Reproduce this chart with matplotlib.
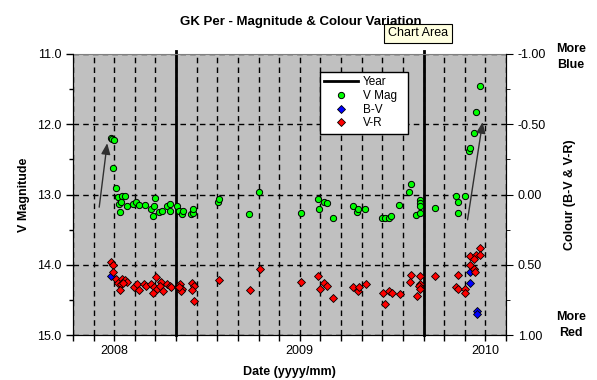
import matplotlib.pyplot as plt
from matplotlib.ticker import FixedLocator, MultipleLocator, FormatStrFormatter

plt.rcParams['font.family'] = ['Liberation Sans', 'DejaVu Sans']

# V magnitude observations (decimal year, mag)
vmag_date = [2007.981, 2007.989, 2007.997, 2007.995, 2008.009, 2008.018, 2008.042, 2008.059,
             2008.024, 2008.035, 2008.032, 2008.070, 2008.102, 2008.119, 2008.135, 2008.167,
             2008.200, 2008.216, 2008.210, 2008.221, 2008.243, 2008.257, 2008.283, 2008.302,
             2008.302, 2008.338, 2008.348, 2008.363, 2008.368, 2008.415, 2008.422, 2008.424,
             2008.559, 2008.563, 2008.727, 2008.778, 2009.009, 2009.097, 2009.106, 2009.133,
             2009.145, 2009.181, 2009.288, 2009.309, 2009.316, 2009.352, 2009.444, 2009.459,
             2009.478, 2009.494, 2009.537, 2009.591, 2009.597, 2009.627, 2009.645, 2009.650,
             2009.650, 2009.645, 2009.731, 2009.839, 2009.850, 2009.850, 2009.888, 2009.911,
             2009.915, 2009.936, 2009.951, 2009.969]
vmag = [12.19, 12.21, 12.23, 12.62, 12.91, 13.03, 13.02, 13.02,
        13.13, 13.10, 13.25, 13.16, 13.13, 13.11, 13.15, 13.15,
        13.21, 13.17, 13.30, 13.05, 13.25, 13.24, 13.17, 13.14,
        13.23, 13.17, 13.23, 13.28, 13.24, 13.28, 13.26, 13.21,
        13.11, 13.06, 13.28, 12.97, 13.26, 13.07, 13.21, 13.10,
        13.12, 13.34, 13.17, 13.25, 13.21, 13.20, 13.34, 13.34,
        13.34, 13.30, 13.15, 12.96, 12.85, 13.29, 13.08, 13.12,
        13.16, 13.26, 13.19, 13.02, 13.11, 13.26, 13.02, 12.38,
        12.34, 12.12, 11.82, 11.45]

# B-V colour
bv_date = [2007.985, 2009.919, 2009.936, 2009.919, 2009.953, 2009.953]
bv = [0.58, 0.55, 0.53, 0.63, 0.83, 0.85]

# V-R colour
vr_date = [2007.982, 2007.996, 2007.996, 2008.012, 2008.042, 2008.056, 2008.070, 2008.019,
           2008.034, 2008.045, 2008.031, 2008.105, 2008.120, 2008.135, 2008.161, 2008.171,
           2008.200, 2008.224, 2008.250, 2008.214, 2008.228, 2008.244, 2008.210, 2008.261,
           2008.287, 2008.302, 2008.306, 2008.341, 2008.356, 2008.365, 2008.361, 2008.351,
           2008.419, 2008.429, 2008.417, 2008.429, 2008.565, 2008.730, 2008.784, 2009.009,
           2009.097, 2009.107, 2009.133, 2009.145, 2009.181, 2009.288, 2009.314, 2009.318,
           2009.354, 2009.447, 2009.457, 2009.479, 2009.497, 2009.540, 2009.598, 2009.592,
           2009.650, 2009.650, 2009.643, 2009.645, 2009.630, 2009.731, 2009.852, 2009.839,
           2009.852, 2009.889, 2009.889, 2009.915, 2009.969, 2009.950, 2009.971, 2009.936,
           2009.915, 2009.936, 2009.942]
vr = [0.48, 0.50, 0.55, 0.60, 0.60, 0.61, 0.62, 0.63,
      0.64, 0.63, 0.68, 0.66, 0.64, 0.68, 0.64, 0.65,
      0.64, 0.59, 0.62, 0.66, 0.67, 0.65, 0.70, 0.69,
      0.64, 0.65, 0.66, 0.66, 0.64, 0.67, 0.69, 0.66,
      0.63, 0.65, 0.68, 0.76, 0.61, 0.68, 0.53, 0.62,
      0.58, 0.67, 0.63, 0.65, 0.74, 0.66, 0.69, 0.66,
      0.64, 0.70, 0.78, 0.69, 0.70, 0.71, 0.57, 0.62,
      0.58, 0.64, 0.65, 0.67, 0.72, 0.58, 0.57, 0.66,
      0.67, 0.67, 0.70, 0.44, 0.38, 0.43, 0.43, 0.46,
      0.50, 0.53, 0.55]

# "Year" marker lines
year_lines = [2008.333, 2009.667]

# brightening arrows (start -> end) in (date, mag)
arrow_starts = [(2007.919, 13.18), (2009.904, 13.36)]
arrow_ends = [(2007.962, 12.27), (2009.985, 11.97)]

year_labels = [2008, 2009, 2010]

fig = plt.figure(figsize=(5.97, 3.80), dpi=100)
ax = fig.add_axes([73 / 597, 1 - 335 / 380, 433 / 597, 281 / 380])
ax.set_facecolor('#c0c0c0')
ax.set_xlim(2008 - 2 / 9, 2010 + 1 / 9)
ax.set_ylim(15.0, 11.0)

# x axis: labels at year starts, gridlines every 1/9 year
ax.xaxis.set_major_locator(FixedLocator(year_labels))
ax.xaxis.set_major_formatter(FormatStrFormatter('%d'))
ax.xaxis.set_minor_locator(FixedLocator([2008 + k / 9 for k in range(-2, 20)]))
ax.yaxis.set_major_locator(MultipleLocator(1.0))
ax.yaxis.set_minor_locator(MultipleLocator(0.5))
ax.yaxis.set_major_formatter(FormatStrFormatter('%.1f'))

ax.grid(which='both', axis='x', color='black', linestyle=(0, (4, 3)), linewidth=1)
ax.grid(which='major', axis='y', color='black', linestyle=(0, (4, 3)), linewidth=1)

ax.tick_params(which='both', direction='out', labelsize=9, width=1)
ax.tick_params(axis='x', which='both', length=4, pad=3)
ax.tick_params(axis='y', which='major', length=5)
ax.tick_params(axis='y', which='minor', length=3)
ax.spines['top'].set_color('#808080')

for i, x in enumerate(year_lines):
    ax.axvline(x, ymin=0, ymax=1.012, color='black', lw=2, clip_on=False,
               label='Year' if i == 0 else None)

ax.plot(vmag_date, vmag, linestyle='none', marker='o', ms=4.5, mfc='#00ff00',
        mec='black', mew=0.7, label='V Mag')

for s, e in zip(arrow_starts, arrow_ends):
    ax.annotate('', xy=e, xytext=s,
                arrowprops=dict(arrowstyle='-|>,head_length=0.6,head_width=0.25',
                                color='#303030', lw=1, mutation_scale=11,
                                shrinkA=0, shrinkB=0))

ax.set_ylabel('V Magnitude', fontsize=9, fontweight='bold', labelpad=5)
ax.set_xlabel('Date (yyyy/mm)', fontsize=9, fontweight='bold', labelpad=7)

# colour axis on the right
ax2 = ax.twinx()
ax2.set_ylim(1.0, -1.0)
ax2.yaxis.set_major_locator(MultipleLocator(0.5))
ax2.yaxis.set_minor_locator(MultipleLocator(0.25))
ax2.yaxis.set_major_formatter(FormatStrFormatter('%.2f'))
ax2.tick_params(which='both', direction='out', labelsize=9)
ax2.tick_params(which='major', length=5)
ax2.tick_params(which='minor', length=3)
ax2.spines['top'].set_visible(False)

ax2.plot(bv_date, bv, linestyle='none', marker='D', ms=3.7, mfc='#0000ff',
         mec='black', mew=0.6, label='B-V')
ax2.plot(vr_date, vr, linestyle='none', marker='D', ms=3.7, mfc='#ff0000',
         mec='black', mew=0.6, label='V-R')
ax2.set_ylabel('Colour (B-V & V-R)', fontsize=9, fontweight='bold', labelpad=13)

h1, l1 = ax.get_legend_handles_labels()
h2, l2 = ax2.get_legend_handles_labels()
leg = ax2.legend(h1 + h2, l1 + l2, loc='upper left',
                 bbox_to_anchor=(320 / 597, 1 - 130 / 380, 88 / 597, 58 / 380),
                 bbox_transform=fig.transFigure, mode='expand', borderaxespad=0,
                 fontsize=8.5, fancybox=False, framealpha=1, edgecolor='black',
                 handlelength=2.9, handletextpad=0.4, labelspacing=0.15,
                 borderpad=0.35)
leg.get_frame().set_linewidth(1)

fig.text(301 / 597, 1 - 22 / 380, 'GK Per - Magnitude & Colour Variation',
         ha='center', va='center', fontsize=9.5, fontweight='bold')
fig.text(571 / 597, 1 - 57 / 380, 'More\nBlue', ha='center', va='center',
         fontsize=9, fontweight='bold', linespacing=1.35)
fig.text(571 / 597, 1 - 325 / 380, 'More\nRed', ha='center', va='center',
         fontsize=9, fontweight='bold', linespacing=1.35)
fig.text(418 / 597, 1 - 33.5 / 380, 'Chart Area', ha='center', va='center',
         fontsize=9, bbox=dict(boxstyle='square,pad=0.3', fc='#ffffe1',
                               ec='black', lw=0.8))

fig.savefig('out.png', dpi=100)
